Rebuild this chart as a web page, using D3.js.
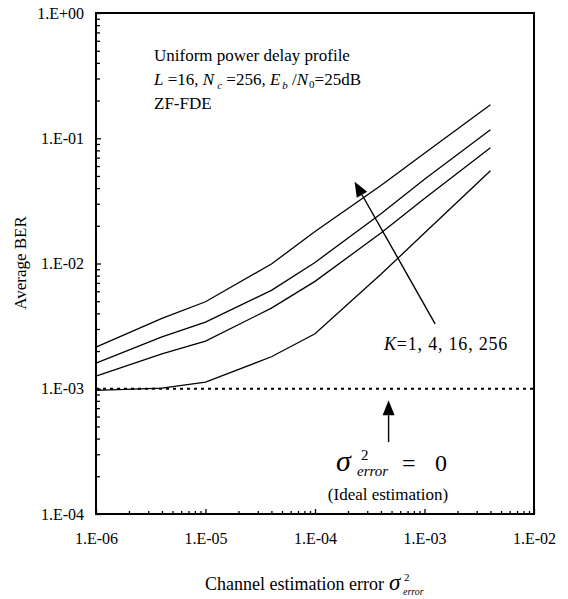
<!DOCTYPE html>
<html>
<head>
<meta charset="utf-8">
<script src="https://cdn.jsdelivr.net/npm/d3@7"></script>
<style>
  body { margin: 0; background: #fff; }
  svg text { font-family: "Liberation Serif", "Times New Roman", serif; fill: #000; }
</style>
</head>
<body>
<div id="chart"></div>
<script>
// channel estimation error variance (x) and average BER per K
var errVar = [1e-6, 4e-6, 1e-5, 4e-5, 1e-4, 4e-4, 1e-3, 4e-3];
var berK1 = [9.7e-4, 1.01e-3, 1.13e-3, 1.8e-3, 2.75e-3, 8.2e-3, 1.75e-2, 5.5e-2];
var berK4 = [1.26e-3, 1.9e-3, 2.4e-3, 4.4e-3, 7.2e-3, 1.75e-2, 3.3e-2, 8.4e-2];
var berK16 = [1.6e-3, 2.6e-3, 3.4e-3, 6.1e-3, 1.02e-2, 2.5e-2, 4.7e-2, 1.17e-1];
var berK256 = [2.15e-3, 3.65e-3, 4.95e-3, 9.9e-3, 1.8e-2, 4.2e-2, 7.6e-2, 1.85e-1];
var idealX = [1e-6, 1e-2];
var idealBer = [1e-3, 1e-3];

var xTicks = [1e-6, 1e-5, 1e-4, 1e-3, 1e-2];
var xTickLabels = ["1.E-06", "1.E-05", "1.E-04", "1.E-03", "1.E-02"];
var yTicks = [1e-4, 1e-3, 1e-2, 1e-1, 1];
var yTickLabels = ["1.E-04", "1.E-03", "1.E-02", "1.E-01", "1.E+00"];

var svgWidth = 568;
var svgHeight = 599;
var margin = { top: 13, right: 34, bottom: 85, left: 96 };
var width = svgWidth - margin.left - margin.right;
var height = svgHeight - margin.top - margin.bottom;

var svg = d3.select("#chart").append("svg")
  .attr("width", svgWidth)
  .attr("height", svgHeight);

var chartGroup = svg.append("g")
  .attr("transform", `translate(${margin.left}, ${margin.top})`);

var xScale = d3.scaleLog().domain([1e-6, 1e-2]).range([0, width]);
var yScale = d3.scaleLog().domain([1e-4, 1]).range([height, 0]);

// minor ticks 2..9 per decade
function minors(lo, hi) {
  var out = [];
  for (var e = lo; e < hi; e++) {
    for (var m = 2; m <= 9; m++) out.push(m * Math.pow(10, e));
  }
  return out;
}

// axes
var bottomAxis = d3.axisBottom(xScale)
  .tickValues(xTicks)
  .tickFormat((d, i) => xTickLabels[i])
  .tickSize(-5)
  .tickPadding(19);
var leftAxis = d3.axisLeft(yScale)
  .tickValues(yTicks)
  .tickFormat((d, i) => yTickLabels[i])
  .tickSize(-5)
  .tickPadding(12);

chartGroup.append("g")
  .attr("transform", `translate(0, ${height})`)
  .call(bottomAxis);
chartGroup.append("g")
  .attr("transform", `translate(0, ${height})`)
  .call(d3.axisBottom(xScale).tickValues(minors(-6, -2)).tickFormat("").tickSize(-3));

chartGroup.append("g").call(leftAxis);
chartGroup.append("g")
  .call(d3.axisLeft(yScale).tickValues(minors(-4, 0)).tickFormat("").tickSize(-4));

chartGroup.selectAll(".domain").remove();
chartGroup.selectAll(".tick line").attr("stroke", "#000").attr("stroke-width", 1.3);
chartGroup.selectAll(".tick text")
  .attr("font-size", "16px")
  .attr("fill", "#000");

// frame
chartGroup.append("rect")
  .attr("x", 0).attr("y", 0)
  .attr("width", width).attr("height", height)
  .attr("fill", "none")
  .attr("stroke", "#000")
  .attr("stroke-width", 2);

// ideal estimation line
var idealLine = d3.line()
  .x((d, i) => xScale(idealX[i]))
  .y(d => yScale(d));
chartGroup.append("path")
  .attr("d", idealLine(idealBer))
  .attr("fill", "none")
  .attr("stroke", "#000")
  .attr("stroke-width", 2)
  .attr("stroke-dasharray", "3,4");

// BER curves
var berLine = d3.line()
  .x((d, i) => xScale(errVar[i]))
  .y(d => yScale(d));
[berK1, berK4, berK16, berK256].forEach(function(series) {
  chartGroup.append("path")
    .attr("d", berLine(series))
    .attr("fill", "none")
    .attr("stroke", "#000")
    .attr("stroke-width", 1.3);
});

// arrows
function arrow(x1, y1, x2, y2) {
  var px1 = xScale(x1), py1 = yScale(y1), px2 = xScale(x2), py2 = yScale(y2);
  var ang = Math.atan2(py2 - py1, px2 - px1);
  var len = 15, hw = 6;
  var bx = px2 - len * Math.cos(ang), by = py2 - len * Math.sin(ang);
  chartGroup.append("line")
    .attr("x1", px1).attr("y1", py1).attr("x2", bx).attr("y2", by)
    .attr("stroke", "#000").attr("stroke-width", 1.4);
  var pts = [
    [px2, py2],
    [bx + hw * Math.sin(ang), by - hw * Math.cos(ang)],
    [bx - hw * Math.sin(ang), by + hw * Math.cos(ang)]
  ];
  chartGroup.append("polygon")
    .attr("points", pts.map(p => p.join(",")).join(" "))
    .attr("fill", "#000");
}
arrow(1.25e-3, 3.3e-3, 2.3e-4, 4.5e-2);
arrow(4.7e-4, 3.75e-4, 4.7e-4, 8.1e-4);

// annotation text
var note = svg.append("g").attr("font-size", "17px");
note.append("text").attr("x", 154).attr("y", 61).text("Uniform power delay profile");
var t2 = note.append("text").attr("x", 154).attr("y", 85);
t2.append("tspan").attr("font-style", "italic").text("L");
t2.append("tspan").text(" =16, ");
t2.append("tspan").attr("font-style", "italic").text("N");
t2.append("tspan").attr("font-style", "italic").attr("font-size", "11px").attr("dx", 3).attr("dy", 4).text("c");
t2.append("tspan").attr("dy", -4).text(" =256, ");
t2.append("tspan").attr("font-style", "italic").text("E");
t2.append("tspan").attr("font-style", "italic").attr("font-size", "11px").attr("dx", 2).attr("dy", 4).text("b");
t2.append("tspan").attr("dy", -4).text(" /");
t2.append("tspan").attr("font-style", "italic").text("N");
t2.append("tspan").attr("font-size", "11px").attr("dx", 1).attr("dy", 3).text("0");
t2.append("tspan").attr("dy", -3).text("=25dB");
note.append("text").attr("x", 154).attr("y", 109).text("ZF-FDE");

var kText = note.append("text").attr("x", 384).attr("y", 350)
  .attr("font-size", "18px").attr("letter-spacing", "0.8px");
kText.append("tspan").attr("font-style", "italic").text("K");
kText.append("tspan").text("=1, 4, 16, 256");

// sigma^2 error = 0
svg.append("text").attr("x", 336).attr("y", 471)
  .attr("font-size", "30px").attr("font-style", "italic").text("σ");
svg.append("text").attr("x", 361).attr("y", 460)
  .attr("font-size", "15px").text("2");
svg.append("text").attr("x", 357).attr("y", 476)
  .attr("font-size", "15px").attr("font-style", "italic").text("error");
svg.append("text").attr("x", 402).attr("y", 471)
  .attr("font-size", "24px").text("=");
svg.append("text").attr("x", 435).attr("y", 471)
  .attr("font-size", "24px").text("0");
svg.append("text").attr("x", 388).attr("y", 500)
  .attr("text-anchor", "middle").attr("font-size", "17px").text("(Ideal estimation)");

// axis titles
svg.append("text")
  .attr("transform", "rotate(-90)")
  .attr("x", -263).attr("y", 26)
  .attr("text-anchor", "middle")
  .attr("font-size", "17px")
  .text("Average BER");

var xTitle = svg.append("g");
xTitle.append("text").attr("x", 205).attr("y", 590)
  .attr("font-size", "18px").text("Channel estimation error");
xTitle.append("text").attr("x", 389).attr("y", 590)
  .attr("font-size", "23px").attr("font-style", "italic").text("σ");
xTitle.append("text").attr("x", 404).attr("y", 581)
  .attr("font-size", "11px").text("2");
xTitle.append("text").attr("x", 403).attr("y", 595)
  .attr("font-size", "10px").attr("font-style", "italic").text("error");
</script>
</body>
</html>
